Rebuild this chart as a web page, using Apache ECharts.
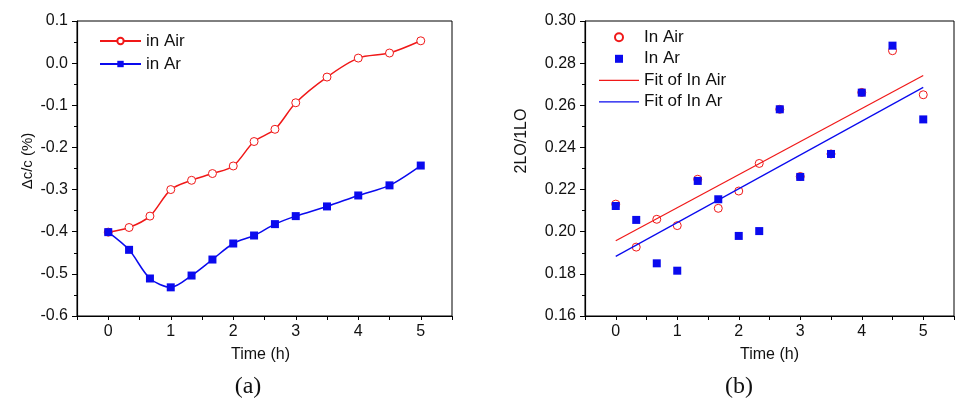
<!DOCTYPE html>
<html>
<head>
<meta charset="utf-8">
<script src="https://cdn.jsdelivr.net/npm/echarts@6/dist/echarts.min.js"></script>
<style>html,body{margin:0;padding:0;background:#fff}#c{width:957px;height:402px}</style>
</head>
<body>
<div id="c"></div>
<script>
// ---- data ----
const timeH = [0, 0.333, 0.667, 1, 1.333, 1.667, 2, 2.333, 2.667, 3, 3.5, 4, 4.5, 5];
// panel (a): Δc/c (%)
const dcAir = [-0.401, -0.390, -0.363, -0.300, -0.278, -0.262, -0.244, -0.186, -0.157, -0.094, -0.033, 0.012, 0.024, 0.053];
const dcAr  = [-0.401, -0.443, -0.511, -0.532, -0.504, -0.466, -0.428, -0.409, -0.382, -0.363, -0.340, -0.314, -0.290, -0.243];
// panel (b): 2LO/1LO
const loAir = [0.2131, 0.1927, 0.2059, 0.2029, 0.2249, 0.2111, 0.2193, 0.2324, 0.2581, 0.2262, 0.2369, 0.2661, 0.2859, 0.2650];
const loAr  = [0.2122, 0.2056, 0.1850, 0.1815, 0.2241, 0.2154, 0.1980, 0.2003, 0.2581, 0.2260, 0.2369, 0.2660, 0.2883, 0.2533];
const fitTime = [0, 5];
const fitAir = [0.1957, 0.2741];
const fitAr  = [0.1883, 0.2685];
const xTickLabels = ['0', '1', '2', '3', '4', '5'];

const zip = (xs, ys) => xs.map((x, i) => [x, ys[i]]);
const RED = '#f01818', BLUE = '#0a0aee';
const FONT = 'Liberation Sans, Arial, sans-serif';
const SQUARE_ICON = 'path://M0,0h10v10h-10z';
const LINE_ICON = 'path://M0,0h40v1.3h-40z';

function xAxisCfg(gi, nameShift) {
  return {
    gridIndex: gi, type: 'value', min: -0.5, max: 5.5, interval: 0.5,
    name: 'Time (h)', nameLocation: 'middle', nameGap: 31,
    nameTextStyle: { fontFamily: FONT, fontSize: 16, color: '#111', padding: [0, nameShift, 0, 0] },
    axisLine: { show: true, onZero: false, lineStyle: { color: '#000', width: 1.2 } },
    axisTick: { show: true, inside: false, length: 4, lineStyle: { color: '#000' } },
    axisLabel: {
      margin: 8, fontFamily: FONT, fontSize: 16, color: '#111',
      formatter: v => { const s = String(Math.round(v)); return (Math.abs(v - Math.round(v)) < 1e-9 && xTickLabels.includes(s)) ? s : ''; }
    },
    splitLine: { show: false }
  };
}
function yAxisCfg(gi, min, max, interval, digits) {
  return {
    gridIndex: gi, type: 'value', min: min, max: max, interval: interval,
    axisLine: { show: true, onZero: false, lineStyle: { color: '#000', width: 1.2 } },
    axisTick: { show: true, inside: false, length: 5, lineStyle: { color: '#000' } },
    minorTick: { show: true, splitNumber: 2, length: 3, lineStyle: { color: '#000' } },
    axisLabel: {
      margin: 9, fontFamily: FONT, fontSize: 16, color: '#111',
      formatter: v => { if (Math.abs(v) < 1e-9) v = 0; return v.toFixed(digits); }
    },
    splitLine: { show: false }
  };
}

const chart = echarts.init(document.getElementById('c'));
chart.setOption({
  animation: false,
  backgroundColor: '#fff',
  grid: [
    { left: 77, top: 21, width: 375, height: 295, show: true, borderColor: '#000', borderWidth: 1, backgroundColor: 'transparent' },
    { left: 585, top: 21, width: 377, height: 295, show: true, borderColor: '#000', borderWidth: 1, backgroundColor: 'transparent' }
  ],
  xAxis: [xAxisCfg(0, 8), xAxisCfg(1, 0)],
  yAxis: [yAxisCfg(0, -0.6, 0.1, 0.1, 1), yAxisCfg(1, 0.16, 0.30, 0.02, 2)],
  legend: [
    {
      data: ['in Air', 'in Ar'], orient: 'vertical', left: 99, top: 32.5, padding: 0,
      itemWidth: 41, itemHeight: 8, itemGap: 6,
      textStyle: { fontFamily: FONT, fontSize: 17, color: '#111' }
    },
    {
      data: [
        { name: 'In Air', icon: 'circle' },
        { name: 'In Ar', icon: SQUARE_ICON },
        { name: 'Fit of In Air', icon: LINE_ICON },
        { name: 'Fit of In Ar', icon: LINE_ICON }
      ],
      orient: 'vertical', left: 599, top: 28.8, padding: 0, symbolKeepAspect: true,
      itemWidth: 40, itemHeight: 8, itemGap: 4.5,
      textStyle: { fontFamily: FONT, fontSize: 17, color: '#111' }
    }
  ],
  series: [
    {
      name: 'in Air', type: 'line', xAxisIndex: 0, yAxisIndex: 0, data: zip(timeH, dcAir),
      smooth: 0.3, symbol: 'circle', symbolSize: 8,
      lineStyle: { color: RED, width: 1.5 },
      itemStyle: { color: '#fff', borderColor: RED, borderWidth: 1 }
    },
    {
      name: 'in Ar', type: 'line', xAxisIndex: 0, yAxisIndex: 0, data: zip(timeH, dcAr),
      smooth: 0.3, symbol: 'rect', symbolSize: 8,
      lineStyle: { color: BLUE, width: 1.5 },
      itemStyle: { color: BLUE }
    },
    {
      name: 'In Air', type: 'scatter', xAxisIndex: 1, yAxisIndex: 1, data: zip(timeH, loAir),
      symbol: 'circle', symbolSize: 8,
      itemStyle: { color: '#fff', borderColor: RED, borderWidth: 1, opacity: 1 }
    },
    {
      name: 'In Ar', type: 'scatter', xAxisIndex: 1, yAxisIndex: 1, data: zip(timeH, loAr),
      symbol: 'rect', symbolSize: 8,
      itemStyle: { color: BLUE, opacity: 1 }
    },
    {
      name: 'Fit of In Air', type: 'line', xAxisIndex: 1, yAxisIndex: 1, data: zip(fitTime, fitAir),
      symbol: 'none', lineStyle: { color: RED, width: 1.2 }, itemStyle: { color: RED }
    },
    {
      name: 'Fit of In Ar', type: 'line', xAxisIndex: 1, yAxisIndex: 1, data: zip(fitTime, fitAr),
      symbol: 'none', lineStyle: { color: BLUE, width: 1.2 }, itemStyle: { color: BLUE }
    }
  ],
  graphic: [
    { type: 'text', x: 28, y: 161, rotation: Math.PI / 2,
      style: { text: 'Δc/c (%)', font: '15px ' + FONT, fill: '#111', align: 'center', verticalAlign: 'middle' } },
    { type: 'text', x: 522, y: 141, rotation: Math.PI / 2,
      style: { text: '2LO/1LO', font: '16px ' + FONT, fill: '#111', align: 'center', verticalAlign: 'middle' } },
    { type: 'text', x: 248, y: 387,
      style: { text: '(a)', font: '24px Liberation Serif, Times New Roman, serif', fill: '#111', align: 'center', verticalAlign: 'middle' } },
    { type: 'text', x: 739, y: 387,
      style: { text: '(b)', font: '24px Liberation Serif, Times New Roman, serif', fill: '#111', align: 'center', verticalAlign: 'middle' } }
  ]
});
</script>
</body>
</html>
